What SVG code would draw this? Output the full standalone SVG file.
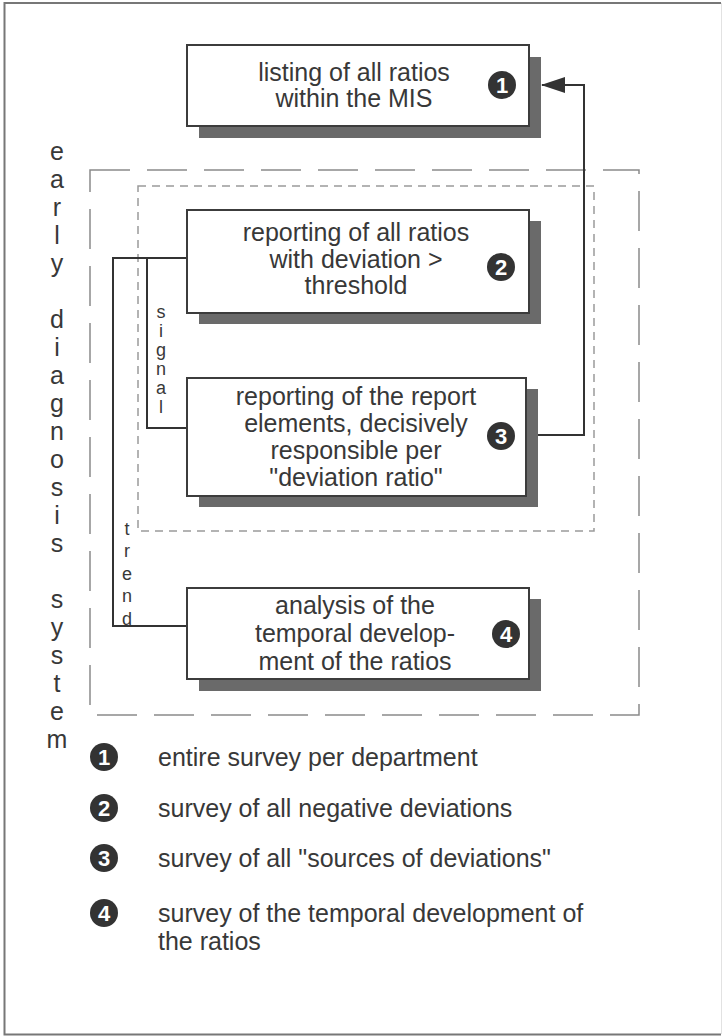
<svg xmlns="http://www.w3.org/2000/svg" width="723" height="1036" viewBox="0 0 723 1036">
  <defs>
    <style>
      .txt { font-family: "Liberation Sans", Arial, sans-serif; fill: #383838; }
      .box { font-size: 25px; text-anchor: middle; }
      .leg { font-size: 25px; }
      .vert { font-size: 25px; text-anchor: middle; }
      .small { font-size: 18px; text-anchor: middle; }
      .node rect.body { fill: #ffffff; stroke: #3c3c3c; stroke-width: 2; }
      .node rect.shadow { fill: #6a6a6a; }
      .badge circle { fill: #333333; }
      .badge text { font-family: "Liberation Sans", Arial, sans-serif; font-weight: bold; font-size: 22px; fill: #ffffff; text-anchor: middle; }
      .conn { fill: none; stroke: #333333; stroke-width: 2; }
    </style>
    <marker id="arrow" viewBox="0 0 24 16" refX="23" refY="8" markerWidth="24" markerHeight="16" markerUnits="userSpaceOnUse" orient="auto">
      <path d="M0,0 L24,8 L0,16 Z" fill="#333333"/>
    </marker>
  </defs>

  <!-- page background and frame -->
  <rect x="0" y="0" width="723" height="1036" fill="#ffffff"/>
  <path d="M721,3 H4.5 V1034.5 H721" fill="none" stroke="#777777" stroke-width="2"/>
  <line x1="721.5" y1="3" x2="721.5" y2="1034" stroke="#e2e2e2" stroke-width="1"/>

  <!-- early diagnosis system boundary -->
  <rect x="90" y="170" width="549" height="545" fill="none" stroke="#8a8a8a" stroke-width="1.5" stroke-dasharray="40 17"/>
  <!-- signal area -->
  <rect x="138" y="186" width="456" height="345" fill="none" stroke="#9a9a9a" stroke-width="1.5" stroke-dasharray="8 6"/>

  <!-- vertical caption -->
  <g id="caption-early-diagnosis-system" class="txt vert">
    <text x="57" y="160">e</text>
    <text x="57" y="188">a</text>
    <text x="57" y="216">r</text>
    <text x="57" y="244">l</text>
    <text x="57" y="272">y</text>
    <text x="57" y="328">d</text>
    <text x="57" y="356">i</text>
    <text x="57" y="384">a</text>
    <text x="57" y="412">g</text>
    <text x="57" y="440">n</text>
    <text x="57" y="468">o</text>
    <text x="57" y="496">s</text>
    <text x="57" y="524">i</text>
    <text x="57" y="552">s</text>
    <text x="57" y="608">s</text>
    <text x="57" y="636">y</text>
    <text x="57" y="664">s</text>
    <text x="57" y="692">t</text>
    <text x="57" y="720">e</text>
    <text x="57" y="748">m</text>
  </g>

  <!-- connectors -->
  <g id="connectors">
    <path class="conn" d="M188,258 H113 V626 H188"/>
    <path class="conn" d="M147,258 V428 H188"/>
    <path class="conn" d="M538,435 H584 V85 H542" marker-end="url(#arrow)"/>
  </g>

  <g id="label-signal" class="txt small">
    <text x="161" y="318">s</text>
    <text x="161" y="337">i</text>
    <text x="161" y="356">g</text>
    <text x="161" y="375">n</text>
    <text x="161" y="394">a</text>
    <text x="161" y="413">l</text>
  </g>
  <g id="label-trend" class="txt small">
    <text x="127" y="535">t</text>
    <text x="127" y="557">r</text>
    <text x="127" y="580">e</text>
    <text x="127" y="602">n</text>
    <text x="127" y="625">d</text>
  </g>

  <!-- node 1 -->
  <g id="node-listing" class="node">
    <rect class="shadow" x="199" y="57" width="342" height="81"/>
    <rect class="body" x="187" y="45" width="342" height="81"/>
    <text class="txt box" x="354" y="81">listing of all ratios</text>
    <text class="txt box" x="354" y="107">within the MIS</text>
    <g class="badge"><circle cx="502" cy="85" r="14"/><text x="502" y="93">1</text></g>
  </g>

  <!-- node 2 -->
  <g id="node-reporting-deviation" class="node">
    <rect class="shadow" x="199" y="221" width="342" height="103"/>
    <rect class="body" x="187" y="210" width="342" height="103"/>
    <text class="txt box" x="356" y="241">reporting of all ratios</text>
    <text class="txt box" x="356" y="268">with deviation &gt;</text>
    <text class="txt box" x="356" y="294">threshold</text>
    <g class="badge"><circle cx="501" cy="267" r="14"/><text x="501" y="275">2</text></g>
  </g>

  <!-- node 3 -->
  <g id="node-report-elements" class="node">
    <rect class="shadow" x="199" y="389" width="339" height="118"/>
    <rect class="body" x="187" y="378" width="339" height="118"/>
    <text class="txt box" x="356" y="405">reporting of the report</text>
    <text class="txt box" x="356" y="432">elements, decisively</text>
    <text class="txt box" x="356" y="459">responsible per</text>
    <text class="txt box" x="356" y="486">"deviation ratio"</text>
    <g class="badge"><circle cx="501" cy="436" r="14"/><text x="501" y="444">3</text></g>
  </g>

  <!-- node 4 -->
  <g id="node-temporal-analysis" class="node">
    <rect class="shadow" x="199" y="599" width="342" height="92"/>
    <rect class="body" x="187" y="588" width="342" height="91"/>
    <text class="txt box" x="355" y="614">analysis of the</text>
    <text class="txt box" x="355" y="642">temporal develop-</text>
    <text class="txt box" x="355" y="670">ment of the ratios</text>
    <g class="badge"><circle cx="506" cy="634" r="14"/><text x="506" y="642">4</text></g>
  </g>

  <!-- legend -->
  <g id="legend">
    <g class="badge"><circle cx="104" cy="757" r="14"/><text x="104" y="765">1</text></g>
    <text class="txt leg" x="158" y="766">entire survey per department</text>
    <g class="badge"><circle cx="104" cy="808" r="14"/><text x="104" y="816">2</text></g>
    <text class="txt leg" x="158" y="817">survey of all negative deviations</text>
    <g class="badge"><circle cx="104" cy="858" r="14"/><text x="104" y="866">3</text></g>
    <text class="txt leg" x="158" y="867">survey of all "sources of deviations"</text>
    <g class="badge"><circle cx="104" cy="913" r="14"/><text x="104" y="921">4</text></g>
    <text class="txt leg" x="158" y="922">survey of the temporal development of</text>
    <text class="txt leg" x="158" y="950">the ratios</text>
  </g>
</svg>
